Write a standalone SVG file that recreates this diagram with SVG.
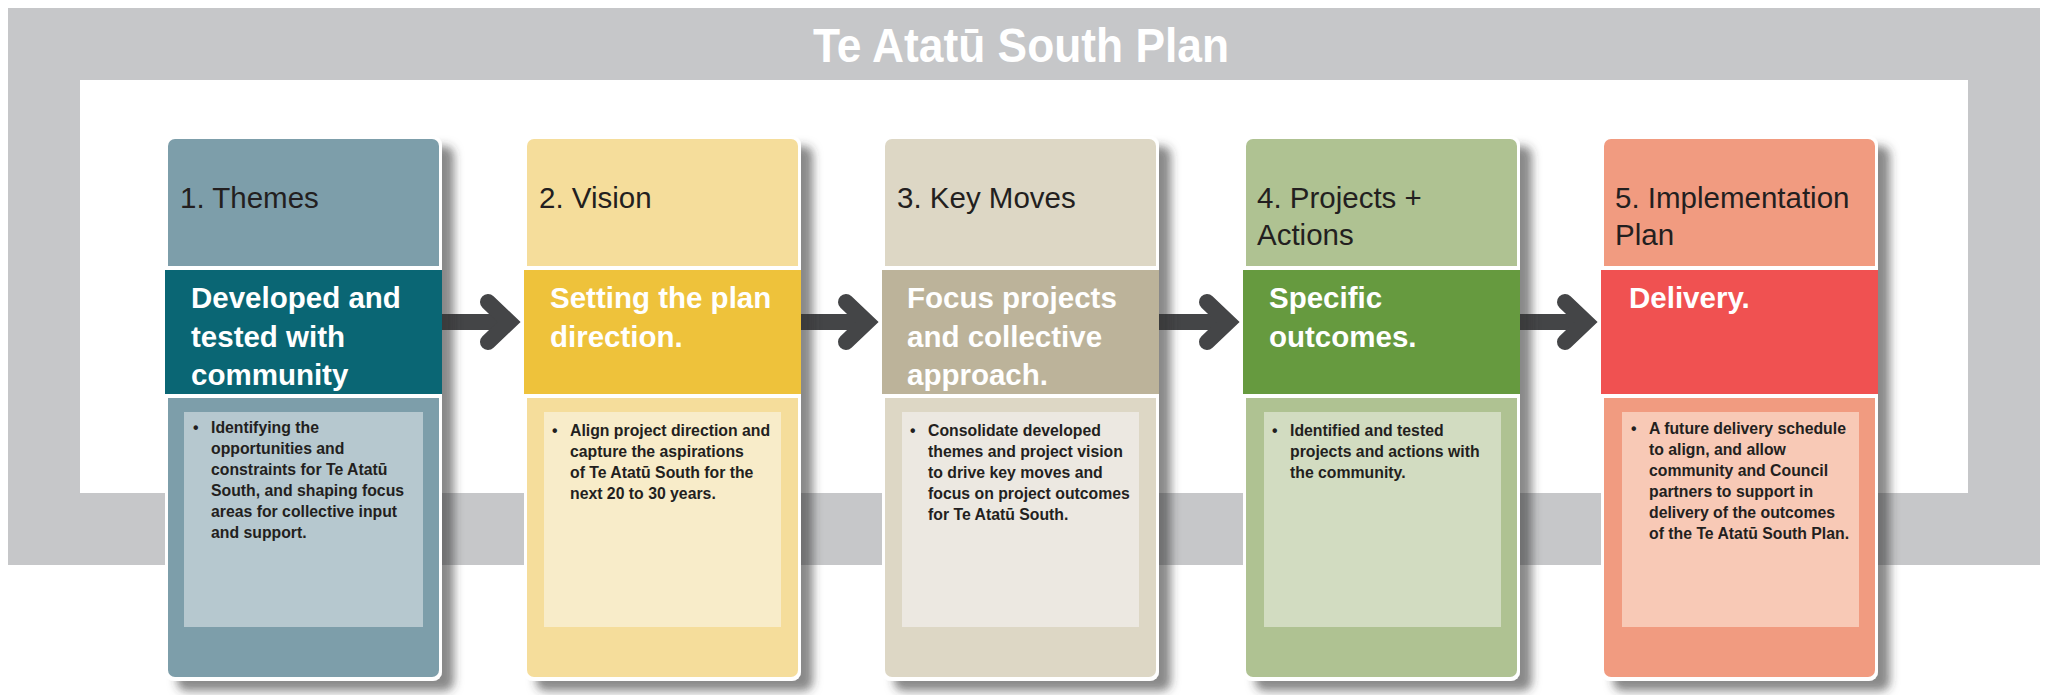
<svg xmlns="http://www.w3.org/2000/svg" width="2047" height="695" viewBox="0 0 2047 695">
<style>
.hd{font-family:"Liberation Sans",Arial,sans-serif;font-size:29.5px;fill:#231f20}
.bd{font-family:"Liberation Sans",Arial,sans-serif;font-size:29.5px;font-weight:bold;fill:#ffffff}
.tx{font-family:"Liberation Sans",Arial,sans-serif;font-size:15.8px;font-weight:bold;fill:#231f20}
.shaft{stroke:#444547;stroke-width:16;fill:none}
.head{stroke:#444547;stroke-width:16;fill:none;stroke-linecap:round;stroke-linejoin:miter}
.bg{fill:#ffffff;filter:url(#sh)}
</style>
<defs>
<filter id="sh" x="-10%" y="-10%" width="130%" height="130%">
<feDropShadow dx="12" dy="10" stdDeviation="5" flood-color="#303136" flood-opacity="0.58"/>
</filter>
</defs>
<rect x="0" y="0" width="2047" height="695" fill="#ffffff"/>
<g id="frame">
<rect x="8" y="8" width="2032" height="557" fill="#c6c7c9"/>
<rect x="80" y="80" width="1888" height="413" fill="#ffffff"/>
<text x="1021" y="62" text-anchor="middle" textLength="416" lengthAdjust="spacingAndGlyphs" font-family="Liberation Sans, Arial, sans-serif" font-size="48" font-weight="bold" fill="#ffffff">Te Atatū South Plan</text>
</g>
<g id="connectors">
<path class="shaft" d="M442,322 H509"/>
<path class="head" d="M488,302 L509,322 L488,342"/>
<path class="shaft" d="M801,322 H867"/>
<path class="head" d="M846,302 L867,322 L846,342"/>
<path class="shaft" d="M1159,322 H1228"/>
<path class="head" d="M1207,302 L1228,322 L1207,342"/>
<path class="shaft" d="M1520,322 H1586"/>
<path class="head" d="M1565,302 L1586,322 L1565,342"/>
</g>
<g id="card1" transform="translate(168,0)">
<rect class="bg" x="-3" y="136" width="277" height="545" rx="9"/>
<path d="M0,146 a7,7 0 0 1 7,-7 H264 a7,7 0 0 1 7,7 V266 H0 Z" fill="#7d9eaa"/>
<rect x="-3" y="270" width="277" height="124" fill="#0a6674"/>
<path d="M0,398 H271 V670 a7,7 0 0 1 -7,7 H7 a7,7 0 0 1 -7,-7 Z" fill="#7d9eaa"/>
<rect x="16" y="412" width="239" height="215" fill="#b6c8cf"/>
<text class="hd" x="12" y="208">1. Themes</text>
<text class="bd" x="23" y="308">Developed and</text>
<text class="bd" x="23" y="346.5">tested with</text>
<text class="bd" x="23" y="385">community</text>
<text class="tx" x="25" y="433">•</text>
<text class="tx" x="43" y="433">Identifying the</text>
<text class="tx" x="43" y="454">opportunities and</text>
<text class="tx" x="43" y="475">constraints for Te Atatū</text>
<text class="tx" x="43" y="496">South, and shaping focus</text>
<text class="tx" x="43" y="517">areas for collective input</text>
<text class="tx" x="43" y="538">and support.</text>
</g>
<g id="card2" transform="translate(527,0)">
<rect class="bg" x="-3" y="136" width="277" height="545" rx="9"/>
<path d="M0,146 a7,7 0 0 1 7,-7 H264 a7,7 0 0 1 7,7 V266 H0 Z" fill="#f5dd9b"/>
<rect x="-3" y="270" width="277" height="124" fill="#eec23b"/>
<path d="M0,398 H271 V670 a7,7 0 0 1 -7,7 H7 a7,7 0 0 1 -7,-7 Z" fill="#f5dd9b"/>
<rect x="17" y="412" width="237" height="215" fill="#f8ecc9"/>
<text class="hd" x="12" y="208">2. Vision</text>
<text class="bd" x="23" y="308">Setting the plan</text>
<text class="bd" x="23" y="346.5">direction.</text>
<text class="tx" x="25" y="436">•</text>
<text class="tx" x="43" y="436">Align project direction and</text>
<text class="tx" x="43" y="457">capture the aspirations</text>
<text class="tx" x="43" y="478">of Te Atatū South for the</text>
<text class="tx" x="43" y="499">next 20 to 30 years.</text>
</g>
<g id="card3" transform="translate(885,0)">
<rect class="bg" x="-3" y="136" width="277" height="545" rx="9"/>
<path d="M0,146 a7,7 0 0 1 7,-7 H264 a7,7 0 0 1 7,7 V266 H0 Z" fill="#ddd7c5"/>
<rect x="-3" y="270" width="277" height="124" fill="#bcb39a"/>
<path d="M0,398 H271 V670 a7,7 0 0 1 -7,7 H7 a7,7 0 0 1 -7,-7 Z" fill="#ddd7c5"/>
<rect x="17" y="412" width="237" height="215" fill="#ece8e1"/>
<text class="hd" x="12" y="208">3. Key Moves</text>
<text class="bd" x="22" y="308">Focus projects</text>
<text class="bd" x="22" y="346.5">and collective</text>
<text class="bd" x="22" y="385">approach.</text>
<text class="tx" x="25" y="436">•</text>
<text class="tx" x="43" y="436">Consolidate developed</text>
<text class="tx" x="43" y="457">themes and project vision</text>
<text class="tx" x="43" y="478">to drive key moves and</text>
<text class="tx" x="43" y="499">focus on project outcomes</text>
<text class="tx" x="43" y="520">for Te Atatū South.</text>
</g>
<g id="card4" transform="translate(1246,0)">
<rect class="bg" x="-3" y="136" width="277" height="545" rx="9"/>
<path d="M0,146 a7,7 0 0 1 7,-7 H264 a7,7 0 0 1 7,7 V266 H0 Z" fill="#afc292"/>
<rect x="-3" y="270" width="277" height="124" fill="#669a3f"/>
<path d="M0,398 H271 V670 a7,7 0 0 1 -7,7 H7 a7,7 0 0 1 -7,-7 Z" fill="#afc292"/>
<rect x="18" y="412" width="237" height="215" fill="#d2dcc1"/>
<text class="hd" x="11" y="208">4. Projects +</text>
<text class="hd" x="11" y="245">Actions</text>
<text class="bd" x="23" y="308">Specific</text>
<text class="bd" x="23" y="346.5">outcomes.</text>
<text class="tx" x="26" y="436">•</text>
<text class="tx" x="44" y="436">Identified and tested</text>
<text class="tx" x="44" y="457">projects and actions with</text>
<text class="tx" x="44" y="478">the community.</text>
</g>
<g id="card5" transform="translate(1604,0)">
<rect class="bg" x="-3" y="136" width="277" height="545" rx="9"/>
<path d="M0,146 a7,7 0 0 1 7,-7 H264 a7,7 0 0 1 7,7 V266 H0 Z" fill="#f19b80"/>
<rect x="-3" y="270" width="277" height="124" fill="#f05151"/>
<path d="M0,398 H271 V670 a7,7 0 0 1 -7,7 H7 a7,7 0 0 1 -7,-7 Z" fill="#f19b80"/>
<rect x="18" y="412" width="237" height="215" fill="#f8c9b6"/>
<text class="hd" x="11" y="208">5. Implementation</text>
<text class="hd" x="11" y="245">Plan</text>
<text class="bd" x="25" y="308">Delivery.</text>
<text class="tx" x="27" y="434">•</text>
<text class="tx" x="45" y="434">A future delivery schedule</text>
<text class="tx" x="45" y="455">to align, and allow</text>
<text class="tx" x="45" y="476">community and Council</text>
<text class="tx" x="45" y="497">partners to support in</text>
<text class="tx" x="45" y="518">delivery of the outcomes</text>
<text class="tx" x="45" y="539">of the Te Atatū South Plan.</text>
</g>
</svg>
